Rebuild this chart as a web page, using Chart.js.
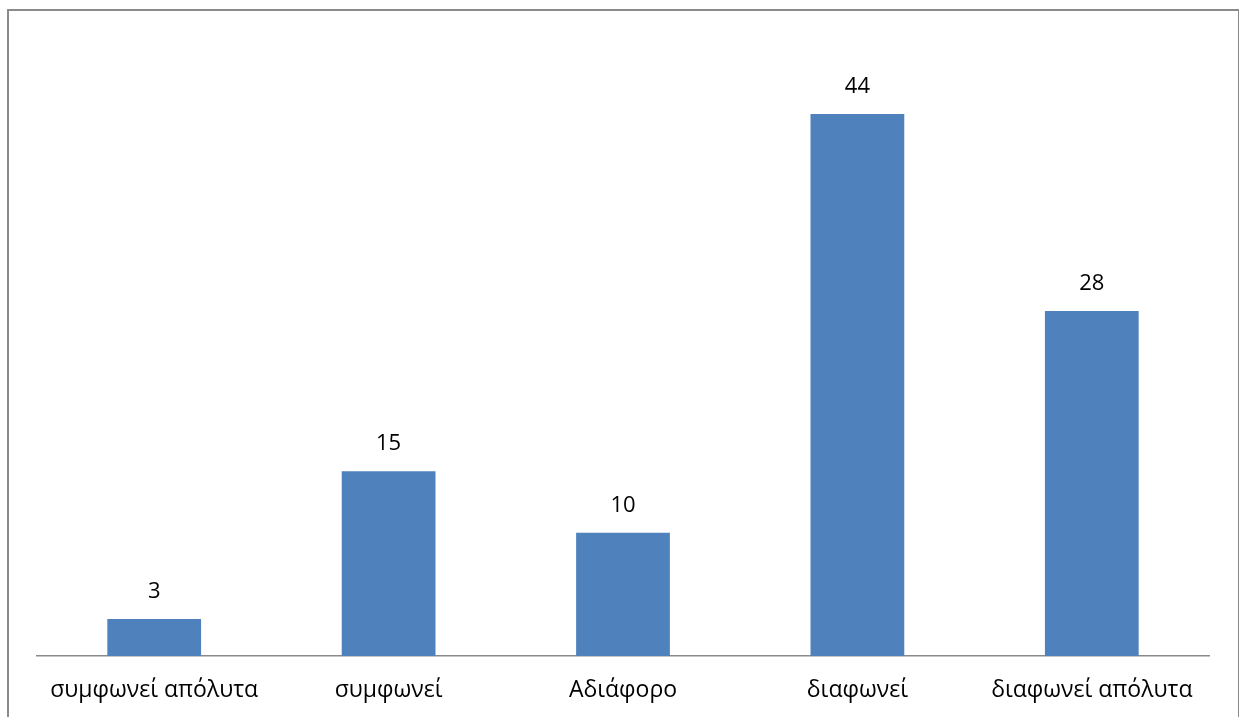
<!DOCTYPE html>
<html>
<head>
<meta charset="utf-8">
<script src="https://cdn.jsdelivr.net/npm/chart.js@4/dist/chart.umd.min.js"></script>
<style>
  html, body { margin: 0; padding: 0; background: #fff; overflow: hidden; }
  #wrap { position: relative; width: 1239px; height: 717px; }
  #frame {
    position: absolute; left: 7px; top: 9px; width: 1229px; height: 720px;
    border: 2px solid #8a8a8a; border-bottom: none; box-sizing: content-box;
  }
  canvas { position: absolute; left: 0; top: 0; }
</style>
</head>
<body>
<div id="wrap">
  <div id="frame"></div>
  <canvas id="c" width="1239" height="717"></canvas>
</div>
<script>
// Responses per answer option
const categories = ['συμφωνεί απόλυτα', 'συμφωνεί', 'Αδιάφορο', 'διαφωνεί', 'διαφωνεί απόλυτα'];
const counts = [3, 15, 10, 44, 28];
const yMin = 0;
const yMax = 50;

const FONT = '"Open Sans", "Noto Sans", sans-serif';

// Writes each bar's value just above it
const valueLabels = {
  id: 'valueLabels',
  afterDatasetsDraw(chart) {
    const ctx = chart.ctx;
    const meta = chart.getDatasetMeta(0);
    ctx.save();
    ctx.font = '22px ' + FONT;
    ctx.fillStyle = '#000';
    ctx.textAlign = 'center';
    ctx.textBaseline = 'middle';
    meta.data.forEach((bar, i) => {
      ctx.fillText(String(chart.data.datasets[0].data[i]), bar.x, bar.y - 27);
    });
    ctx.restore();
  }
};

new Chart(document.getElementById('c'), {
  type: 'bar',
  data: {
    labels: categories,
    datasets: [{
      data: counts,
      backgroundColor: '#4f81bd',
      borderWidth: 0,
      barPercentage: 0.4,
      categoryPercentage: 1.0
    }]
  },
  options: {
    responsive: false,
    animation: false,
    devicePixelRatio: 1,
    layout: { padding: { left: 37, right: 30, top: 40, bottom: 0 } },
    plugins: { legend: { display: false }, tooltip: { enabled: false } },
    scales: {
      x: {
        grid: { display: false, drawTicks: false },
        border: { display: true, color: '#8a8a8a', width: 1.5 },
        ticks: { color: '#000', font: { family: FONT, size: 23 }, padding: 21, maxRotation: 0, autoSkip: false },
        afterFit(scale) { scale.height = 61; }
      },
      y: {
        display: false,
        min: yMin,
        max: yMax
      }
    }
  },
  plugins: [valueLabels]
});
</script>
</body>
</html>
